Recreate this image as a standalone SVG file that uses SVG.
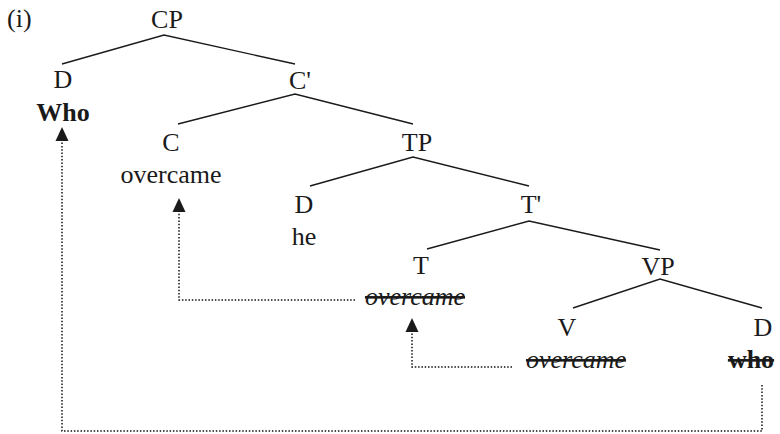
<svg xmlns="http://www.w3.org/2000/svg" width="780" height="434" viewBox="0 0 780 434">
<style>
text{font-family:'Liberation Serif',Tinos,'Times New Roman','DejaVu Serif',serif;font-size:26px;fill:#1a1a1a;text-anchor:middle}
.b{font-weight:bold}
.i{font-style:italic}
.s{text-decoration:line-through}
.e{stroke:#1a1a1a;stroke-width:1.4;fill:none}
.d{stroke:#111;stroke-width:1.5;fill:none;stroke-dasharray:1.5 1.8}
.a{fill:#1a1a1a}
</style>
<rect width="780" height="434" fill="#fff"/>
<text x="7" y="27" style="text-anchor:start">(i)</text>
<g id="connectors">
<path class="e" d="M62 64L164 35L295 64"/>
<path class="e" d="M178 124L295 94L413 124"/>
<path class="e" d="M310 186L413 157L529 186"/>
<path class="e" d="M427 249L529 221L660 250"/>
<path class="e" d="M573 308L660 279L762 308"/>
<path class="d" d="M355 300H179V212"/>
<path class="d" d="M512 367H412V332"/>
<path class="d" d="M762 385V431H62V141"/>
<path class="a" d="M62 127L68.5 141H55.5Z"/>
<path class="a" d="M179 198L185.5 212H172.5Z"/>
<path class="a" d="M412 318L418.5 332H405.5Z"/>
</g>
<g id="CP"><text x="167" y="28">CP</text></g>
<g id="D1"><text x="63" y="88">D</text><text class="b" x="63" y="121">Who</text></g>
<g id="C1"><text x="300" y="89">C'</text></g>
<g id="C"><text x="171" y="151">C</text><text x="171" y="183">overcame</text></g>
<g id="TP"><text x="417" y="151">TP</text></g>
<g id="D2"><text x="304" y="213">D</text><text x="304" y="245">he</text></g>
<g id="T1"><text x="531" y="213">T'</text></g>
<g id="T"><text x="421" y="274">T</text><text class="i s" x="415" y="305">overcame</text></g>
<g id="VP"><text x="658" y="275">VP</text></g>
<g id="V"><text x="567" y="336">V</text><text class="i s" x="576" y="368">overcame</text></g>
<g id="D3"><text x="763" y="336">D</text><text class="b s" x="751" y="368">who</text></g>
</svg>
